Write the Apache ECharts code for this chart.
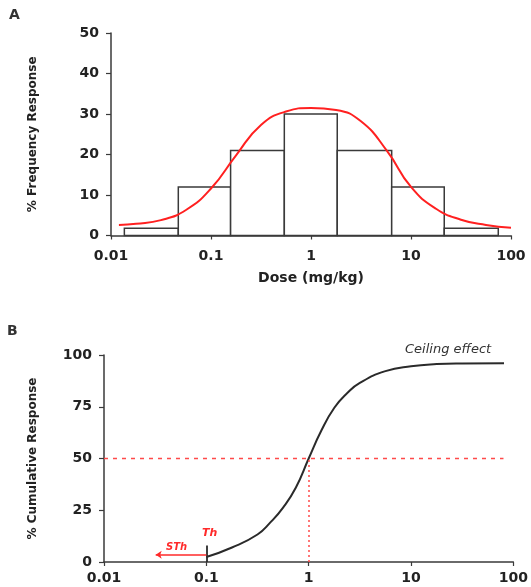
<!DOCTYPE html>
<html>
<head>
  <meta charset="utf-8" />
  <title>Dose response</title>
  <script src="https://cdn.jsdelivr.net/npm/echarts@6/dist/echarts.min.js"></script>
  <style>
    html, body { margin: 0; padding: 0; background: #fff; }
  </style>
</head>
<body>
<div id="main" style="width: 531px;height:587px;"></div>
<script type="text/javascript">
  // tick labels of both dose axes
  var doseTicks = ['0.01', '0.1', '1', '10', '100'];

  // panel A: histogram bins (dose edges) and % frequency per bin
  var binEdges = [0.0136, 0.0471, 0.157, 0.541, 1.83, 6.41, 21.5, 74.6];
  var binFreq = [1.8, 12, 21, 30, 21, 12, 1.8];

  // panel A: red fitted curve
  var fitDose = [0.012, 0.0178, 0.0316, 0.0562, 0.1, 0.178, 0.316, 0.562, 1, 1.78, 3.16, 5.75, 10, 17.8, 31.6, 56.2, 100];
  var fitFreq = [2.6, 2.9, 3.8, 6.3, 11.6, 19.8, 27.3, 30.6, 31.5, 31.0, 28.2, 20.9, 12, 6.6, 3.9, 2.6, 1.9];

  // panel B: cumulative response curve
  var cumDose = [0.1, 0.178, 0.316, 0.42, 0.562, 0.75, 1, 1.33, 1.78, 2.37, 3.16, 5.62, 10, 17.8, 31.6, 81];
  var cumResp = [2.4, 7, 13.3, 19, 26.3, 36, 50, 63.5, 74.5, 81.5, 86.5, 92.2, 94.6, 95.6, 95.9, 96];

  var FONT = 'DejaVu Sans';
  var AXIS_COLOR = '#3a3a3a';

  var bins = [];
  for (var i = 0; i < binFreq.length; i++) {
    bins.push([binEdges[i], binEdges[i + 1], binFreq[i]]);
  }
  function pairs(xs, ys) {
    var out = [];
    for (var i = 0; i < xs.length; i++) out.push([xs[i], ys[i]]);
    return out;
  }

  function doseAxis(gridIndex, labelMargin, extra) {
    var ax = {
      type: 'log',
      logBase: 10,
      gridIndex: gridIndex,
      min: 0.01,
      max: 100,
      axisLine: { lineStyle: { color: AXIS_COLOR, width: 1.5 } },
      axisTick: { lineStyle: { color: AXIS_COLOR, width: 1.2 }, length: 4 },
      minorTick: { show: false },
      splitLine: { show: false },
      axisLabel: {
        margin: labelMargin,
        color: '#222',
        fontFamily: FONT,
        fontWeight: 'bold',
        fontSize: 14,
        formatter: function (v) {
          return doseTicks[Math.round(Math.log10(v)) + 2];
        }
      }
    };
    for (var k in extra) ax[k] = extra[k];
    return ax;
  }

  function respAxis(gridIndex, max, interval, name, nameGap) {
    return {
      type: 'value',
      gridIndex: gridIndex,
      min: 0,
      max: max,
      interval: interval,
      name: name,
      nameLocation: 'middle',
      nameGap: nameGap,
      nameTextStyle: { color: '#222', fontFamily: FONT, fontWeight: 'bold', fontSize: 12 },
      axisLine: { show: true, lineStyle: { color: AXIS_COLOR, width: 1.5 } },
      axisTick: { show: true, lineStyle: { color: AXIS_COLOR, width: 1.2 }, length: 5 },
      splitLine: { show: false },
      axisLabel: {
        margin: 12,
        color: '#222',
        fontFamily: FONT,
        fontWeight: 'bold',
        fontSize: 14
      }
    };
  }

  var myChart = echarts.init(document.getElementById('main'));
  var option = {
    animation: false,
    backgroundColor: '#fff',
    grid: [
      { left: 111, top: 33, width: 400, height: 202.5 },
      { left: 104, top: 355, width: 410, height: 207 }
    ],
    xAxis: [
      doseAxis(0, 14, {
        name: 'Dose (mg/kg)',
        nameLocation: 'middle',
        nameGap: 36,
        nameTextStyle: { color: '#222', fontFamily: FONT, fontWeight: 'bold', fontSize: 14 }
      }),
      doseAxis(1, 9, {})
    ],
    yAxis: [
      respAxis(0, 50, 10, '% Frequency Response', 72),
      respAxis(1, 100, 25, '% Cumulative Response', 65)
    ],
    graphic: [
      { type: 'text', left: 9, top: 8, style: { text: 'A', font: 'bold 14px "DejaVu Sans"', fill: '#333' } },
      { type: 'text', left: 7, top: 324, style: { text: 'B', font: 'bold 14px "DejaVu Sans"', fill: '#333' } },
      { type: 'text', left: 405, top: 343, style: { text: 'Ceiling effect', font: 'italic 13px "DejaVu Sans"', fill: '#333' } },
      { type: 'text', left: 202, top: 528, style: { text: 'Th', font: 'italic bold 11px "DejaVu Sans"', fill: '#ff2a2a' } },
      { type: 'text', left: 166, top: 542, style: { text: 'STh', font: 'italic bold 10px "DejaVu Sans"', fill: '#ff2a2a' } }
    ],
    series: [
      {
        name: 'histogram',
        type: 'custom',
        xAxisIndex: 0,
        yAxisIndex: 0,
        encode: { x: [0, 1], y: 2 },
        data: bins,
        z: 2,
        renderItem: function (params, api) {
          var p0 = api.coord([api.value(0), api.value(2)]);
          var p1 = api.coord([api.value(1), 0]);
          return {
            type: 'rect',
            shape: { x: p0[0], y: p0[1], width: p1[0] - p0[0], height: p1[1] - p0[1] },
            style: { fill: '#fff', stroke: '#3a3a3a', lineWidth: 1.5 }
          };
        }
      },
      {
        name: 'fit',
        type: 'line',
        xAxisIndex: 0,
        yAxisIndex: 0,
        data: pairs(fitDose, fitFreq),
        smooth: 0.5,
        symbol: 'none',
        z: 3,
        lineStyle: { color: '#ff2020', width: 2 }
      },
      {
        name: 'cumulative',
        type: 'line',
        xAxisIndex: 1,
        yAxisIndex: 1,
        data: pairs(cumDose, cumResp),
        smooth: 0.5,
        symbol: 'none',
        z: 3,
        lineStyle: { color: '#2a2a2a', width: 2 },
        markLine: {
          silent: true,
          symbol: ['none', 'none'],
          label: { show: false },
          data: [
            [{ coord: [0.01, 50], lineStyle: { color: '#ff4a4a', type: [4, 5], width: 1.3 } }, { coord: [80, 50] }],
            [{ coord: [1, 0], lineStyle: { color: '#ff4a4a', type: [2, 3], width: 1.5 } }, { coord: [1, 50] }],
            [{ coord: [0.1, 0], lineStyle: { color: '#2a2a2a', type: 'solid', width: 1.8 } }, { coord: [0.1, 8] }],
            [{ coord: [0.1, 3.5], symbol: 'none', lineStyle: { color: '#ff2a2a', type: 'solid', width: 1.5 } },
             { coord: [0.032, 3.5], symbol: 'arrow', symbolSize: 6 }]
          ]
        }
      }
    ]
  };
  myChart.setOption(option);
</script>
</body>
</html>
